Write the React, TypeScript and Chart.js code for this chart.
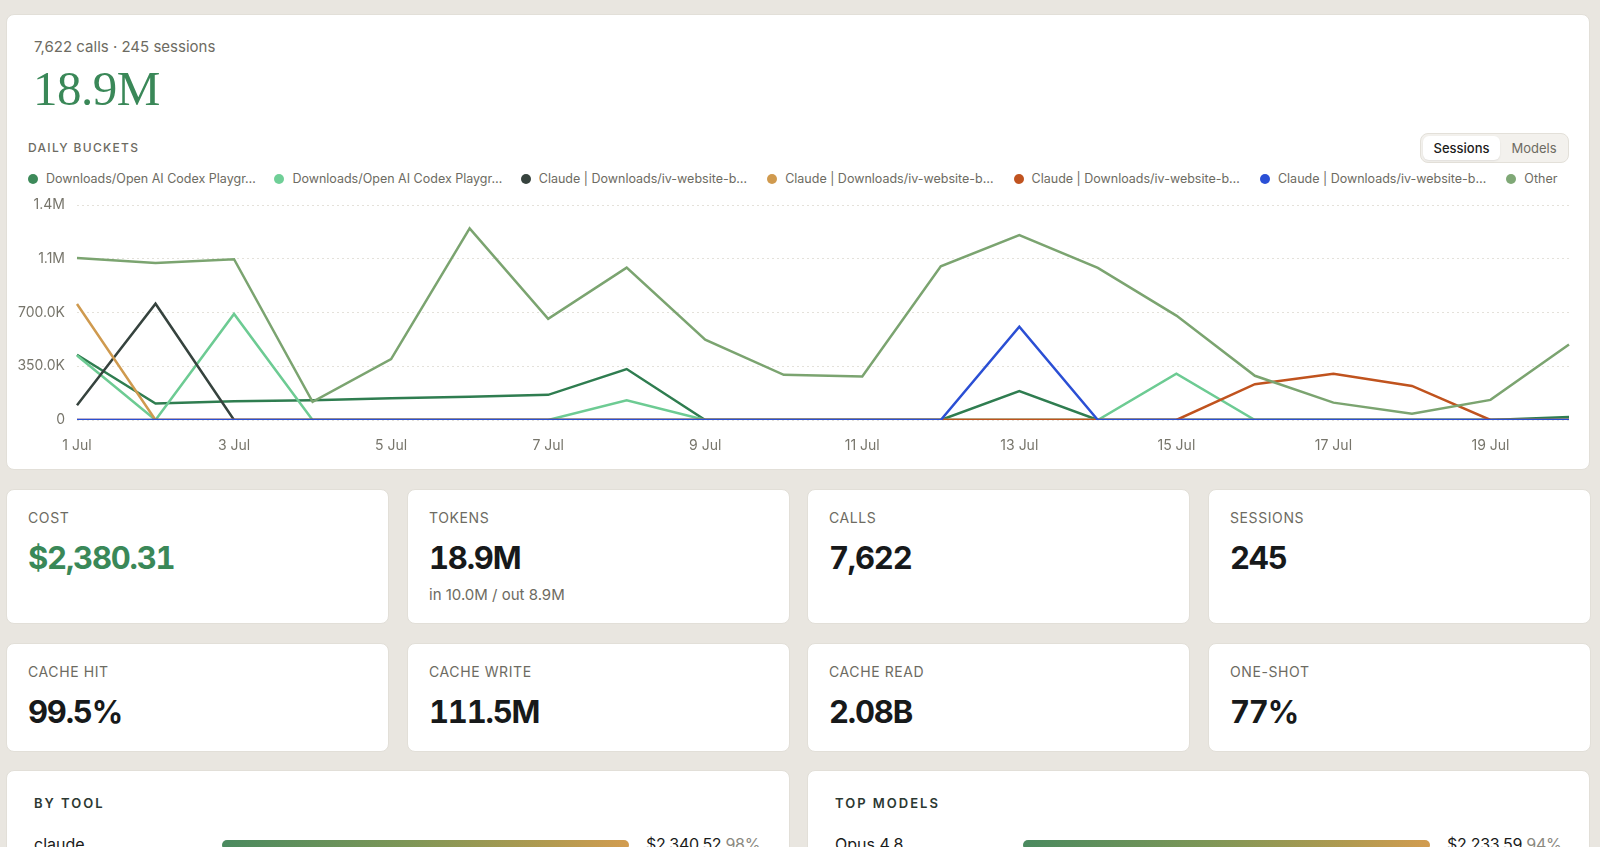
import React, { useEffect, useRef } from "react";
import { Chart, registerables } from "chart.js";

Chart.register(...registerables);

// Daily buckets, 1 Jul – 20 Jul
const days = [
  "1 Jul", "2 Jul", "3 Jul", "4 Jul", "5 Jul", "6 Jul", "7 Jul", "8 Jul", "9 Jul", "10 Jul",
  "11 Jul", "12 Jul", "13 Jul", "14 Jul", "15 Jul", "16 Jul", "17 Jul", "18 Jul", "19 Jul", "20 Jul",
];

const seriesNames = [
  "Downloads/Open AI Codex Playgr…",
  "Downloads/Open AI Codex Playgr…",
  "Claude | Downloads/iv-website-b…",
  "Claude | Downloads/iv-website-b…",
  "Claude | Downloads/iv-website-b…",
  "Claude | Downloads/iv-website-b…",
  "Other",
];

const seriesColors = ["#2f7d50", "#6dcb93", "#36433e", "#cf9a4f", "#c0531e", "#2b4fd4", "#7ba470"];
const legendColors = ["#3d8a5a", "#6fcf97", "#37433e", "#d09a4e", "#c0531f", "#2b50d6", "#7fa876"];

// tokens per day for each session bucket
const codexA = [425000, 107000, 122000, 129000, 142000, 152000, 164000, 332000, 0, 0, 0, 0, 188000, 0, 0, 0, 0, 0, 0, 20000];
const codexB = [420000, 0, 691000, 0, 0, 0, 0, 129000, 0, 0, 0, 0, 0, 0, 301000, 0, 0, 0, 0, 0];
const claudeSlate = [96000, 757000, 0, 0, 0, 0, 0, 0, 0, 0, 0, 0, 0, 0, 0, 0, 0, 0, 0, 0];
const claudeTan = [755000, 0, 0, 0, 0, 0, 0, 0, 0, 0, 0, 0, 0, 0, 0, 0, 0, 0, 0, 0];
const claudeRust = [0, 0, 0, 0, 0, 0, 0, 0, 0, 0, 0, 0, 0, 0, 0, 233000, 301000, 222000, 0, 0];
const claudeBlue = [0, 0, 0, 0, 0, 0, 0, 0, 0, 0, 0, 0, 608000, 0, 0, 0, 0, 0, 0, 0];
const other = [1055000, 1023000, 1047000, 118000, 397000, 1248000, 659000, 992000, 523000, 294000, 283000, 1001000, 1204000, 990000, 680000, 288000, 113000, 41000, 131000, 491000];

const seriesData = [codexA, codexB, claudeSlate, claudeTan, claudeRust, claudeBlue, other];

const yMax = 1400000;
const yStep = 350000;

const statsTop = [
  { label: "COST", value: "$2,380.31", sub: "", green: true },
  { label: "TOKENS", value: "18.9M", sub: "in 10.0M / out 8.9M", green: false },
  { label: "CALLS", value: "7,622", sub: "", green: false },
  { label: "SESSIONS", value: "245", sub: "", green: false },
];
const statsBottom = [
  { label: "CACHE HIT", value: "99.5%" },
  { label: "CACHE WRITE", value: "111.5M" },
  { label: "CACHE READ", value: "2.08B" },
  { label: "ONE-SHOT", value: "77%" },
];

const FONT = "Inter, 'Noto Sans', sans-serif";
const MUTED = "#6d6b62";
const GREEN = "#3a8858";

function formatTokens(v: number): string {
  if (v >= 1e6) return (v / 1e6).toFixed(1) + "M";
  if (v >= 1e3) return (v / 1e3).toFixed(1) + "K";
  return String(v);
}

function DailyChart() {
  const ref = useRef<HTMLCanvasElement | null>(null);
  useEffect(() => {
    if (!ref.current) return;
    const n = seriesData.length;
    const chart = new Chart(ref.current, {
      type: "line",
      data: {
        labels: days,
        datasets: seriesData.map((d, i) => ({
          label: seriesNames[i],
          data: d,
          borderColor: seriesColors[i],
          backgroundColor: seriesColors[i],
          borderWidth: 2.5,
          pointRadius: 0,
          tension: 0,
          // later series paint over earlier ones
          order: n - i,
        })),
      },
      options: {
        animation: false,
        responsive: false,
        maintainAspectRatio: false,
        layout: { padding: { left: 0, right: 22, top: 12, bottom: 0 } },
        plugins: { legend: { display: false }, tooltip: { enabled: false } },
        scales: {
          x: {
            grid: { display: false },
            border: { display: false },
            ticks: {
              autoSkip: false,
              maxRotation: 0,
              padding: 9,
              color: "#77756b",
              font: { family: FONT, size: 14 },
              callback: (_v: any, i: number) => (i % 2 === 0 ? days[i] : ""),
            },
            afterFit: (s: any) => {
              s.height = 38;
            },
          },
          y: {
            min: 0,
            max: yMax,
            grid: { color: "#e4e1da", drawTicks: false, lineWidth: 1 },
            border: { display: false, dash: [2, 3] },
            ticks: {
              stepSize: yStep,
              padding: 12,
              color: "#77756b",
              font: { family: FONT, size: 14 },
              callback: (v: any) => formatTokens(Number(v)),
            },
            afterFit: (s: any) => {
              s.width = 70;
              s.paddingTop = 0;
              s.paddingBottom = 0;
            },
          },
        },
      },
    });
    return () => chart.destroy();
  }, []);
  return (
    <canvas
      ref={ref}
      width={1584}
      height={265}
      style={{ position: "absolute", left: 0, top: 178, width: 1584, height: 265 }}
    />
  );
}

const card: React.CSSProperties = {
  position: "absolute",
  background: "#ffffff",
  borderRadius: 8,
  border: "1px solid #e2dfd8",
  boxSizing: "border-box",
};

const statLabel: React.CSSProperties = {
  position: "absolute",
  left: 21,
  top: 19,
  fontSize: 14,
  letterSpacing: 0.6,
  color: MUTED,
  lineHeight: "18px",
};

const statValue: React.CSSProperties = {
  position: "absolute",
  left: 21,
  top: 49,
  fontSize: 31,
  fontWeight: 700,
  letterSpacing: -1.2,
  lineHeight: "38px",
  color: "#17191a",
  fontVariantNumeric: "tabular-nums",
};

const colLeft = [6, 407, 807, 1208];

export default function App() {
  return (
    <div
      style={{
        position: "fixed",
        left: 0,
        top: 0,
        width: 1600,
        height: 847,
        background: "#e9e6e0",
        overflow: "hidden",
        fontFamily: FONT,
      }}
    >
      {/* overview card */}
      <div style={{ ...card, left: 6, top: 14, width: 1584, height: 456 }}>
        <div style={{ position: "absolute", left: 27, top: 22, fontSize: 15, color: MUTED, lineHeight: "20px" }}>
          7,622 calls · 245 sessions
        </div>
        <div
          style={{
            position: "absolute",
            left: 26,
            top: 48,
            fontSize: 49,
            lineHeight: "52px",
            color: GREEN,
            fontFamily: "'Liberation Serif', 'DejaVu Serif', serif",
            letterSpacing: -0.5,
          }}
        >
          18.9M
        </div>
        <div
          style={{
            position: "absolute",
            left: 21,
            top: 125,
            fontSize: 12,
            letterSpacing: 1.3,
            fontWeight: 500,
            color: MUTED,
            lineHeight: "16px",
          }}
        >
          DAILY BUCKETS
        </div>
        <div
          style={{
            position: "absolute",
            left: 1413,
            top: 118,
            width: 149,
            height: 30,
            background: "#f3f1ed",
            border: "1px solid #e3e0d9",
            borderRadius: 8,
            boxSizing: "border-box",
          }}
        >
          <div
            style={{
              position: "absolute",
              left: 2,
              top: 2,
              width: 77,
              height: 24,
              background: "#ffffff",
              borderRadius: 6,
              boxShadow: "0 1px 2px rgba(0,0,0,0.08)",
              fontSize: 13,
              fontWeight: 500,
              color: "#1c1c1a",
              lineHeight: "24px",
              textAlign: "center",
            }}
          >
            Sessions
          </div>
          <div
            style={{
              position: "absolute",
              left: 80,
              top: 2,
              width: 66,
              height: 24,
              fontSize: 13,
              color: MUTED,
              lineHeight: "24px",
              textAlign: "center",
            }}
          >
            Models
          </div>
        </div>
        {/* legend */}
        <div style={{ position: "absolute", left: 21, top: 156, display: "flex", height: 16 }}>
          {seriesNames.map((name, i) => (
            <div
              key={i}
              style={{ width: 246.4, display: "flex", alignItems: "center", flexShrink: 0, whiteSpace: "nowrap" }}
            >
              <span
                style={{
                  width: 10,
                  height: 10,
                  borderRadius: 5,
                  background: legendColors[i],
                  display: "inline-block",
                  marginRight: 8,
                }}
              />
              <span style={{ fontSize: 12.5, color: MUTED, lineHeight: "16px" }}>{name}</span>
            </div>
          ))}
        </div>
        <DailyChart />
      </div>

      {/* headline stats */}
      {statsTop.map((s, i) => (
        <div key={s.label} style={{ ...card, left: colLeft[i], top: 489, width: 383, height: 135 }}>
          <div style={statLabel}>{s.label}</div>
          <div style={{ ...statValue, color: s.green ? GREEN : "#17191a" }}>{s.value}</div>
          {s.sub ? (
            <div style={{ position: "absolute", left: 21, top: 95, fontSize: 15, color: MUTED, lineHeight: "20px" }}>
              {s.sub}
            </div>
          ) : null}
        </div>
      ))}
      {statsBottom.map((s, i) => (
        <div key={s.label} style={{ ...card, left: colLeft[i], top: 643, width: 383, height: 109 }}>
          <div style={statLabel}>{s.label}</div>
          <div style={statValue}>{s.value}</div>
        </div>
      ))}

      {/* breakdown cards */}
      {[
        { left: 6, width: 784, title: "BY TOOL", name: "claude", amount: "$2,340.52", pct: "98%" },
        { left: 807, width: 783, title: "TOP MODELS", name: "Opus 4.8", amount: "$2,233.59", pct: "94%" },
      ].map((b) => (
        <div key={b.title} style={{ ...card, left: b.left, top: 770, width: b.width, height: 120 }}>
          <div
            style={{
              position: "absolute",
              left: 27,
              top: 24,
              fontSize: 13,
              fontWeight: 600,
              letterSpacing: 2,
              color: "#2c3832",
              lineHeight: "16px",
            }}
          >
            {b.title}
          </div>
          <div style={{ position: "absolute", left: 27, top: 63, fontSize: 16, color: "#1a1b1a", lineHeight: "20px" }}>
            {b.name}
          </div>
          <div
            style={{
              position: "absolute",
              left: 215,
              top: 69,
              width: 407,
              height: 10,
              borderRadius: 5,
              background: "linear-gradient(90deg, #4a8a5f 0%, #7d9657 45%, #b19a50 80%, #d29c50 100%)",
            }}
          />
          <div style={{ position: "absolute", left: 639, top: 63, fontSize: 16, color: "#1a1b1a", lineHeight: "20px", letterSpacing: -0.3 }}>
            {b.amount} <span style={{ color: "#8b897f" }}>{b.pct}</span>
          </div>
        </div>
      ))}
    </div>
  );
}
